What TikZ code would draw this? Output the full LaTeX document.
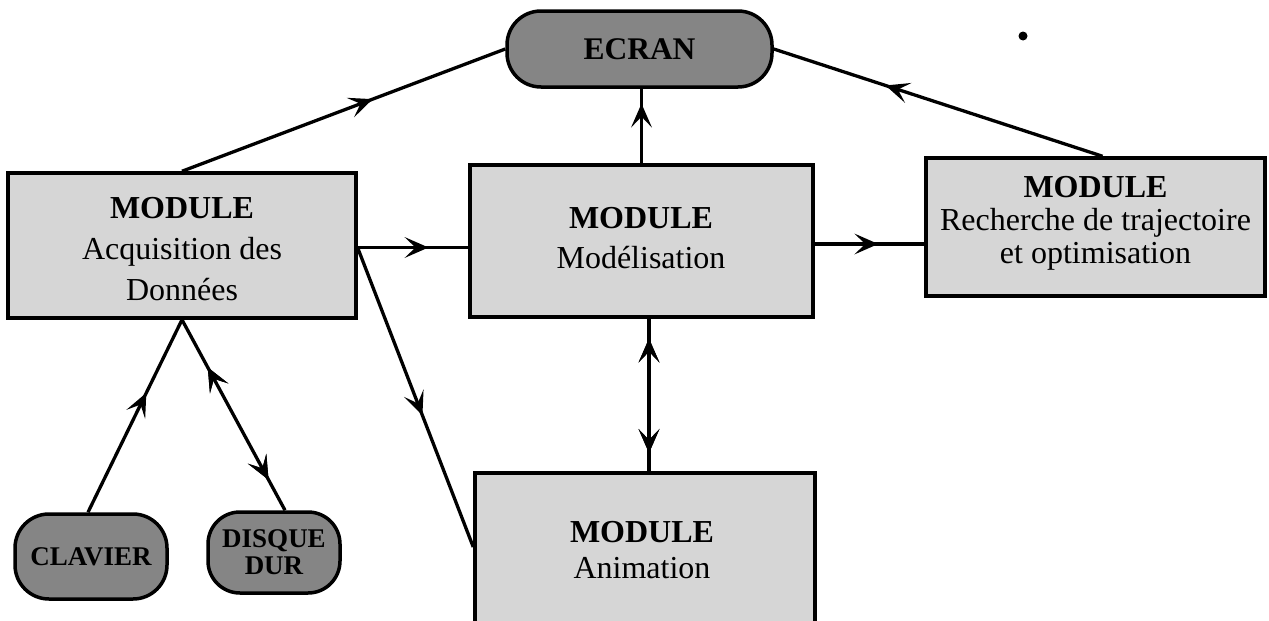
\documentclass[tikz,border=0pt]{standalone}
\usepackage{fontspec}
\setmainfont{Liberation Serif}
\usetikzlibrary{arrows.meta,decorations.markings,calc}
\definecolor{modfill}{gray}{0.84}
\definecolor{pillfill}{gray}{0.52}
\tikzset{
  modbox/.style={draw, line width=3.5pt, fill=modfill, align=center, inner sep=0pt},
  pillbox/.style={draw, line width=3.5pt, fill=pillfill, align=center, inner sep=0pt, rounded corners=34pt, font=\bfseries},
  labeltext/.style={align=center, inner sep=0pt},
  conn/.style={line width=3.3pt},
  tipshape/.tip={Stealth[length=24pt,width=21pt,inset=11pt,line width=0pt]},
  arrowat/.style={postaction={decorate}, decoration={markings, mark=at position #1 with {\arrow{tipshape}}}},
  revarrowat/.style={postaction={decorate}, decoration={markings, mark=at position #1 with {\arrowreversed{tipshape}}}},
}
\begin{document}
\begin{tikzpicture}[x=1pt,y=-1pt]
\clip (0,0) rectangle (1269,621);
\fill[white] (0,0) rectangle (1269,621);
% nodes
\node[pillbox, minimum width=265pt, minimum height=76pt, font=\bfseries\fontsize{31.5}{36}\selectfont] (ecran) at (639.5,49) {ECRAN};
\node[modbox, minimum width=348pt, minimum height=145pt] (acq) at (182,245.5) {};
\node[labeltext, font=\fontsize{32}{41}\selectfont] (acqtext) at (182,249) {\textbf{MODULE}\\Acquisition des\\Données};
\node[modbox, minimum width=343pt, minimum height=152pt] (mod) at (641.5,241) {};
\node[labeltext, font=\fontsize{32}{40}\selectfont] (modtext) at (641,238) {\textbf{MODULE}\\Modélisation};
\node[modbox, minimum width=339pt, minimum height=138pt] (rech) at (1095.5,227) {};
\node[labeltext, font=\fontsize{32}{33}\selectfont] (rechtext) at (1095.5,223) {\textbf{MODULE}\\Recherche de trajectoire\\et optimisation};
\node[modbox, minimum width=340pt, minimum height=167pt] (anim) at (645,556.5) {};
\node[labeltext, font=\fontsize{32}{36}\selectfont] (animtext) at (642,550) {\textbf{MODULE}\\Animation};
\node[pillbox, minimum width=152pt, minimum height=85pt, font=\bfseries\fontsize{27}{28}\selectfont] (clav) at (91,556.5) {CLAVIER};
\node[pillbox, minimum width=132pt, minimum height=81pt, rounded corners=32pt, font=\bfseries\fontsize{27}{27}\selectfont] (disk) at (274,552.5) {DISQUE\\DUR};
\fill (1023,36) circle (4.5pt);
% connectors
\draw[conn, arrowat=0.59] (acq.north) -- (ecran.west);
\draw[conn, arrowat=0.8] (mod.north) -- (mod.north |- ecran.south);
\draw[conn, arrowat=0.66] ([xshift=7pt]rech.north) -- (ecran.east);
\draw[conn, arrowat=0.64] ([yshift=-2pt]acq.east) -- ([yshift=-2pt]acq.east -| mod.west);
\draw[conn, arrowat=0.58] ([yshift=-3pt]mod.east) -- ([yshift=-3pt]mod.east -| rech.west);
\draw[conn, arrowat=0.56] ([yshift=-2.5pt]acq.east) -- ([yshift=9.5pt]anim.west);
\draw[conn, arrowat=0.87, revarrowat=0.12] ([xshift=4pt]anim.north) -- ([xshift=4pt]anim.north |- mod.south);
\draw[conn, arrowat=0.62] ([xshift=-3pt]clav.north) -- (acq.south);
\draw[conn, arrowat=0.75, revarrowat=0.16] ([xshift=11pt]disk.north) -- (acq.south);
\end{tikzpicture}
\end{document}
